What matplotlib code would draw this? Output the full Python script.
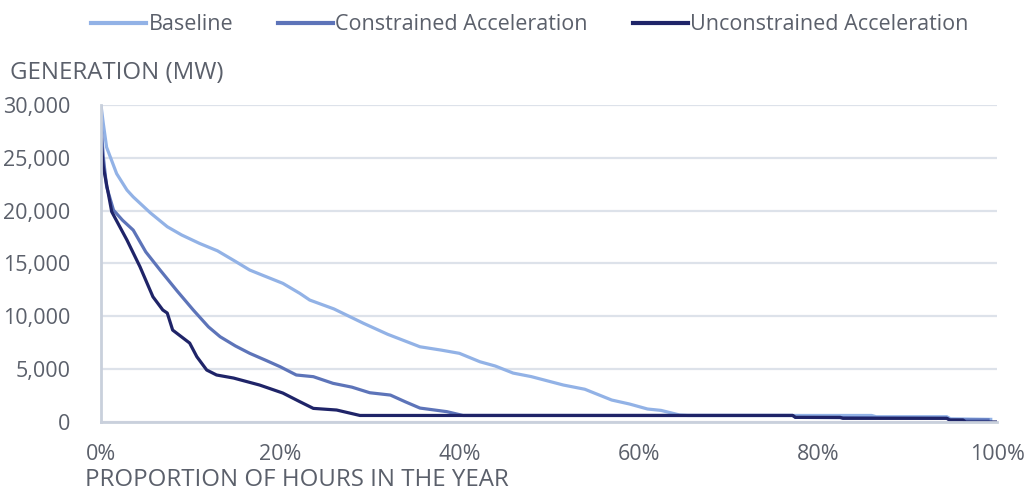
import matplotlib
matplotlib.use("Agg")
import matplotlib.pyplot as plt
from matplotlib.ticker import FuncFormatter, MultipleLocator

# Load-duration curves: share of hours in the year (%) vs generation (MW)
baseline_pct = [0, 0.26, 0.63, 1.75, 2.9, 3.6, 5.5, 7.4, 9, 11, 13, 15, 16.6, 18,
                20.3, 22.2, 23.3, 26, 29.3, 32, 35.6, 38, 40, 42.3, 44, 46, 48,
                51.6, 54, 57, 59, 61, 62.5, 64.6, 65.5, 86, 86.5, 94.4, 94.8, 99.3]
baseline_mw = [30000, 28250, 26000, 23500, 21950, 21300, 19800, 18480, 17700,
               16900, 16200, 15200, 14380, 13900, 13120, 12170, 11540, 10700,
               9340, 8300, 7120, 6800, 6500, 5700, 5300, 4630, 4300, 3500, 3100,
               2080, 1700, 1230, 1100, 660, 620, 620, 500, 500, 300, 250]

constrained_pct = [0, 0.26, 0.63, 1.4, 2.4, 3.6, 5, 6.6, 8.5, 10.3, 12, 13.3, 15,
                   16.6, 18.5, 20, 21.8, 23.7, 25.9, 28, 30, 32.3, 34, 35.6, 38.6,
                   40.4, 77.2, 77.5, 94.4, 94.8, 99.0]
constrained_mw = [28250, 25100, 22260, 20050, 19100, 18160, 16100, 14380, 12400,
                  10600, 9000, 8070, 7200, 6500, 5800, 5230, 4450, 4290, 3660, 3300,
                  2770, 2550, 1900, 1320, 980, 620, 620, 440, 350, 200, 200]

unconstrained_pct = [0, 0.26, 0.6, 1.2, 2.1, 2.9, 4.35, 5.8, 6.9, 7.4, 8, 9.9,
                     10.7, 11.8, 12.9, 14.8, 17.7, 20.3, 22.2, 23.7, 26.3, 28.9,
                     77.2, 77.5, 82.5, 82.8, 94.4, 94.7, 96.2, 96.5, 100]
unconstrained_mw = [26700, 24150, 22600, 19900, 18480, 17220, 14700, 11850, 10600,
                    10310, 8700, 7470, 6180, 4920, 4450, 4160, 3500, 2740, 1920,
                    1290, 1135, 620, 620, 440, 440, 350, 350, 190, 190, 0, 0]

series = [
    ("Baseline", baseline_pct, baseline_mw, "#92b2e6"),
    ("Constrained Acceleration", constrained_pct, constrained_mw, "#5d74b9"),
    ("Unconstrained Acceleration", unconstrained_pct, unconstrained_mw, "#1f2468"),
]

text_color = "#5b606b"
plt.rcParams["font.family"] = ["Open Sans", "DejaVu Sans"]

fig = plt.figure(figsize=(10.25, 4.91), dpi=100)
ax = fig.add_axes([0.0985, 0.1405, 0.8742, 0.6457])

for name, xs, ys, color in series:
    ax.plot(xs, ys, color=color, lw=2.3, label=name, solid_joinstyle="round")

ax.set_xlim(0, 100)
ax.set_ylim(0, 30000)
ax.xaxis.set_major_locator(MultipleLocator(20))
ax.yaxis.set_major_locator(MultipleLocator(5000))
ax.xaxis.set_major_formatter(FuncFormatter(lambda v, p: f"{v:.0f}%"))
ax.yaxis.set_major_formatter(FuncFormatter(lambda v, p: f"{v:,.0f}"))

ax.grid(axis="y", color="#dde2ea", lw=1.6)
ax.set_axisbelow(True)
for side in ("top", "right"):
    ax.spines[side].set_visible(False)
for side in ("left", "bottom"):
    ax.spines[side].set_color("#c9d0dc")
    ax.spines[side].set_linewidth(2)

ax.tick_params(axis="both", length=0, labelsize=15.5, labelcolor=text_color)
ax.tick_params(axis="x", pad=16)
ax.tick_params(axis="y", pad=22)

fig.text(0.0098, 0.852, "GENERATION (MW)", fontsize=17.3, color=text_color,
         ha="left", va="center")
fig.text(0.083, 0.022, "PROPORTION OF HOURS IN THE YEAR", fontsize=17.3,
         color=text_color, ha="left", va="center")

leg = fig.legend(loc="upper center", bbox_to_anchor=(0.517, 1.01), ncol=3,
                 frameon=False, fontsize=15.5, handlelength=2.55,
                 handletextpad=0.1, columnspacing=2.1)
for t in leg.get_texts():
    t.set_color(text_color)
for h in leg.legend_handles:
    h.set_linewidth(3)

fig.savefig("out.png", dpi=100)
